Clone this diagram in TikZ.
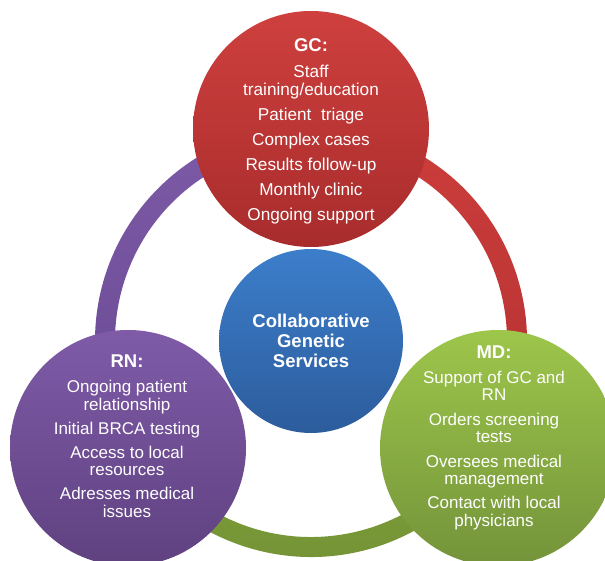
\documentclass[tikz,border=0pt]{standalone}
\usepackage{fontspec}
\setmainfont{Liberation Sans}
\usetikzlibrary{calc}

\definecolor{gcTop}{HTML}{CE403E}
\definecolor{gcBot}{HTML}{A82C2C}
\definecolor{rnTop}{HTML}{7F5BA8}
\definecolor{rnBot}{HTML}{5F4180}
\definecolor{mdTop}{HTML}{9DC64B}
\definecolor{mdBot}{HTML}{74933A}
\definecolor{cgTop}{HTML}{3C7ECB}
\definecolor{cgBot}{HTML}{2C5C9C}
\definecolor{arcPurTop}{HTML}{7D5AA7}
\definecolor{arcPurBot}{HTML}{6A4A93}
\definecolor{arcRedTop}{HTML}{CC3D3B}
\definecolor{arcRedBot}{HTML}{B43232}
\definecolor{arcGrnTop}{HTML}{7FA03C}
\definecolor{arcGrnBot}{HTML}{729134}

\tikzset{
  role/.style={circle, inner sep=0pt, minimum size=236pt, draw=none},
  hub/.style={circle, inner sep=0pt, minimum size=184pt, draw=none},
  roletext/.style={text=white, align=center, inner sep=0pt,
    font=\fontsize{17}{17.5}\selectfont},
  hubtext/.style={text=white, align=center, inner sep=0pt,
    font=\bfseries\fontsize{18.5}{20}\selectfont},
}
\newcommand{\rolehead}[1]{{\bfseries\fontsize{18.5}{18}\selectfont #1}}

\begin{document}
\begin{tikzpicture}[x=1pt,y=1pt]
  \useasboundingbox (0,0) rectangle (605,560);
  \clip (0,0) rectangle (605,560);

  % centre of the surrounding ring
  \coordinate (ring) at (311,219);

  % ring segments (outer radius 216, inner radius 196)
  \path[top color=arcPurTop, bottom color=arcPurBot]
    ($(ring)+(90:216)$) arc[start angle=90, end angle=210, radius=216]
    -- ($(ring)+(210:196)$) arc[start angle=210, end angle=90, radius=196] -- cycle;
  \path[top color=arcRedTop, bottom color=arcRedBot]
    ($(ring)+(-30:216)$) arc[start angle=-30, end angle=90, radius=216]
    -- ($(ring)+(90:196)$) arc[start angle=90, end angle=-30, radius=196] -- cycle;
  \path[top color=arcGrnTop, bottom color=arcGrnBot]
    ($(ring)+(210:216)$) arc[start angle=210, end angle=330, radius=216]
    -- ($(ring)+(330:196)$) arc[start angle=330, end angle=210, radius=196] -- cycle;

  % role circles
  \node[role, top color=gcTop, bottom color=gcBot] (gc) at (311,431) {};
  \node[role, top color=rnTop, bottom color=rnBot] (rn) at (128,112) {};
  \node[role, top color=mdTop, bottom color=mdBot] (md) at (498,112) {};
  \node[hub, top color=cgTop, bottom color=cgBot] (hub) at (311,219) {};

  % texts
  \node[roletext, font=\fontsize{17.2}{18}\selectfont] (gctext) at (311,429) {\rolehead{GC:}\\[8pt]
    Staff\\training/education\\[7pt]
    Patient\ \ triage\\[7pt]
    Complex cases\\[7pt]
    Results follow-up\\[7pt]
    Monthly clinic\\[7pt]
    Ongoing support};

  \node[roletext] (rntext) at (127,124) {\rolehead{RN:}\\[8pt]
    Ongoing patient\\relationship\\[6.5pt]
    Initial BRCA testing\\[6.5pt]
    Access to local\\resources\\[6.5pt]
    Adresses medical\\issues};

  \node[roletext] (mdtext) at (494,122.5) {\rolehead{MD:}\\[7.5pt]
    Support of GC and\\RN\\[7pt]
    Orders screening\\tests\\[7pt]
    Oversees medical\\management\\[6.5pt]
    Contact with local\\physicians};

  \node[hubtext] (hubtext) at (311,219.5) {Collaborative\\Genetic\\Services};
\end{tikzpicture}
\end{document}
